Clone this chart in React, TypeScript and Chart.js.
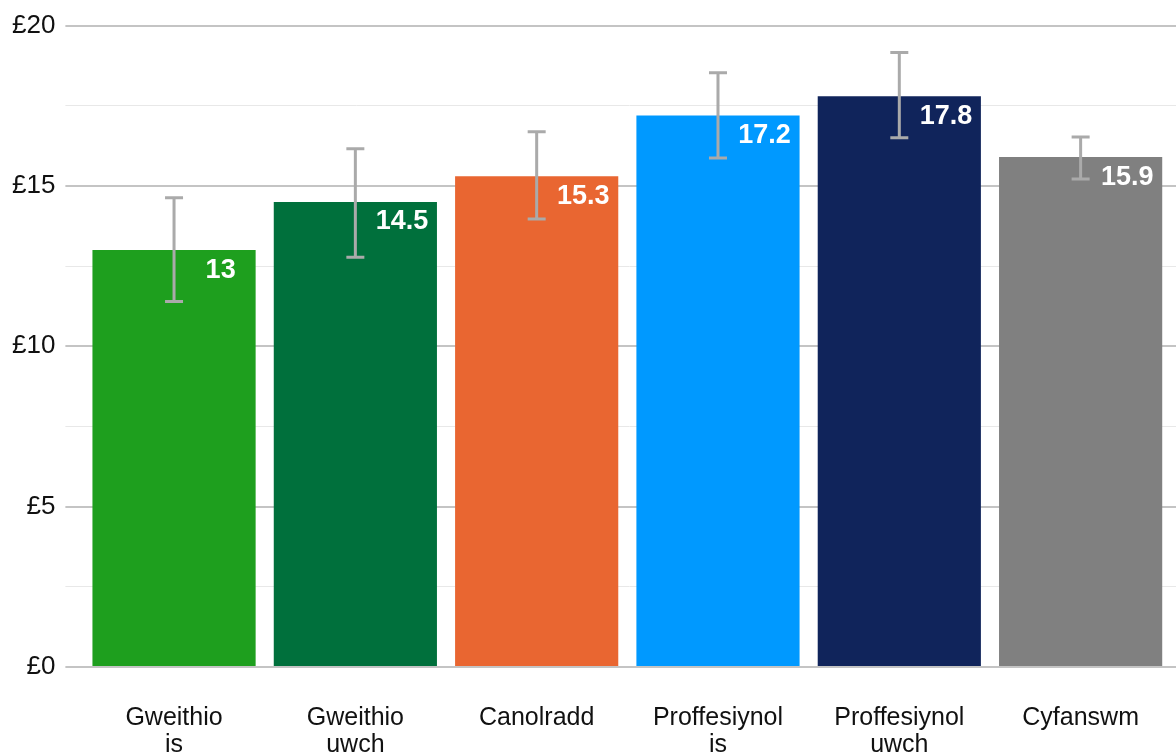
import React, { useEffect, useRef } from "react";
import { Chart, registerables } from "chart.js";

Chart.register(...registerables);

const categories: string[][] = [
  ["Gweithio", "is"],
  ["Gweithio", "uwch"],
  ["Canolradd"],
  ["Proffesiynol", "is"],
  ["Proffesiynol", "uwch"],
  ["Cyfanswm"],
];
const values: number[] = [13, 14.5, 15.3, 17.2, 17.8, 15.9];
const lowerCI: number[] = [11.4, 12.78, 13.97, 15.87, 16.5, 15.22];
const upperCI: number[] = [14.63, 16.16, 16.69, 18.53, 19.16, 16.53];
const barColors: string[] = ["#1e9f1e", "#00703c", "#e96631", "#0099ff", "#10245b", "#808080"];
const yTickValues: number[] = [0, 2.5, 5, 7.5, 10, 12.5, 15, 17.5, 20];

const FONT = "'Liberation Sans', Arial, sans-serif";

const errorBarPlugin = {
  id: "errorBars",
  afterDatasetsDraw(chart: any) {
    const ctx = chart.ctx;
    const meta = chart.getDatasetMeta(0);
    const yScale = chart.scales.y;
    ctx.save();
    ctx.strokeStyle = "#aaaaaa";
    ctx.lineWidth = 3;
    meta.data.forEach((bar: any, i: number) => {
      const x = bar.x;
      const yLo = yScale.getPixelForValue(lowerCI[i]);
      const yHi = yScale.getPixelForValue(upperCI[i]);
      const cap = 9;
      ctx.beginPath();
      ctx.moveTo(x, yLo);
      ctx.lineTo(x, yHi);
      ctx.moveTo(x - cap, yHi);
      ctx.lineTo(x + cap, yHi);
      ctx.moveTo(x - cap, yLo);
      ctx.lineTo(x + cap, yLo);
      ctx.stroke();
    });
    ctx.fillStyle = "#ffffff";
    ctx.font = `bold 27px ${FONT}`;
    ctx.textAlign = "center";
    ctx.textBaseline = "middle";
    meta.data.forEach((bar: any, i: number) => {
      const right = bar.x + bar.width / 2;
      ctx.fillText(String(values[i]), right - 35, bar.y + 20);
    });
    ctx.restore();
  },
};

export default function App() {
  const canvasRef = useRef<HTMLCanvasElement | null>(null);

  useEffect(() => {
    document.body.style.margin = "0";
    const canvas = canvasRef.current;
    if (!canvas) return;
    const chart = new Chart(canvas, {
      type: "bar",
      data: {
        datasets: [
          {
            data: values.map((v, i) => ({ x: i, y: v })),
            backgroundColor: barColors,
            borderWidth: 0,
            categoryPercentage: 0.9,
            barPercentage: 1,
          },
        ],
      },
      options: {
        responsive: false,
        animation: false,
        layout: { padding: { top: 19, right: 0, left: 2, bottom: 0 } },
        plugins: {
          legend: { display: false },
          tooltip: { enabled: false },
        },
        scales: {
          x: {
            type: "linear",
            offset: false,
            min: -0.5,
            max: 5.526,
            afterBuildTicks: (axis: any) => {
              axis.ticks = categories.map((_, i) => ({ value: i }));
            },
            ticks: {
              autoSkip: false,
              maxRotation: 0,
              padding: 30,
              color: "#111111",
              font: { family: FONT, size: 25, lineHeight: 1.08 },
              callback: (v: any) => categories[Number(v)] ?? "",
            },
            grid: { display: false },
            border: { display: false },
          },
          y: {
            min: 0,
            max: 20,
            afterBuildTicks: (axis: any) => {
              axis.ticks = yTickValues.map((v) => ({ value: v }));
            },
            ticks: {
              padding: 10,
              color: "#111111",
              font: { family: FONT, size: 26 },
              callback: (v: any) => (Number(v) % 5 === 0 ? "£" + v : ""),
            },
            grid: {
              color: (c: any) => (c.tick && c.tick.value % 5 === 0 ? "#c4c4c4" : "#e8e8e8"),
              lineWidth: (c: any) => (c.tick && c.tick.value % 5 === 0 ? 2 : 1),
              tickLength: 18,
            },
            border: { display: false },
          },
        },
      },
      plugins: [errorBarPlugin],
    });
    return () => chart.destroy();
  }, []);

  return (
    <div style={{ position: "relative", width: 1176, height: 756, overflow: "hidden" }}>
      <canvas ref={canvasRef} width={1176} height={789} />
    </div>
  );
}
